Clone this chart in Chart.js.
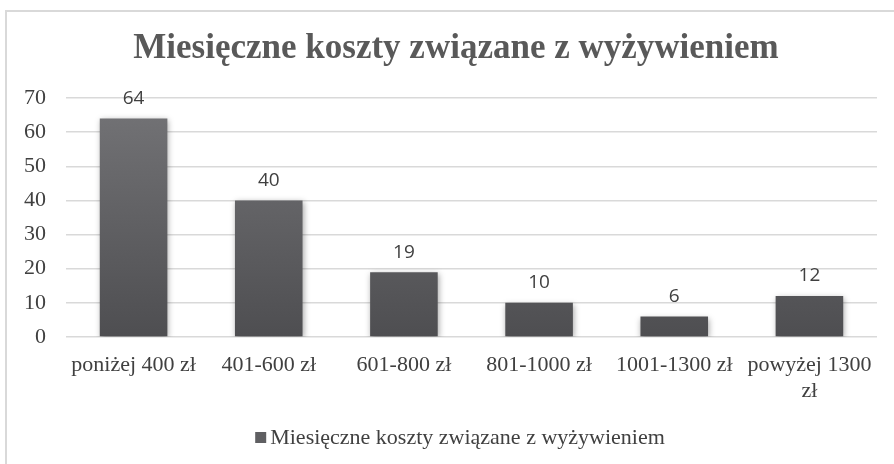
<!DOCTYPE html>
<html>
<head>
<meta charset="utf-8">
<script src="https://cdn.jsdelivr.net/npm/chart.js@4"></script>
<style>
  html, body { margin: 0; padding: 0; background: #fff; }
  #wrap { position: relative; width: 894px; height: 464px; overflow: hidden; }
  #frame {
    position: absolute; left: 5px; top: 10px; right: -10px; bottom: -10px;
    border-left: 2px solid #d9d9d9; border-top: 2px solid #d9d9d9;
  }
  canvas { position: absolute; left: 0; top: 0; }
</style>
</head>
<body>
<div id="wrap">
  <div id="frame"></div>
  <canvas id="costChart" width="894" height="464"></canvas>
</div>
<script>
  const title = "Miesięczne koszty związane z wyżywieniem";
  const categories = ["poniżej 400 zł", "401-600 zł", "601-800 zł", "801-1000 zł", "1001-1300 zł", ["powyżej 1300", "zł"]];
  const counts = [64, 40, 19, 10, 6, 12];
  const yTicks = [0, 10, 20, 30, 40, 50, 60, 70];

  const serif = "'Liberation Serif', 'DejaVu Serif', serif";
  const sans = "'Open Sans', 'Liberation Sans', sans-serif";
  const frameCenter = 458;

  // heading and legend, both centred on the outer frame rather than the plot
  const frameText = {
    id: "frameText",
    afterDraw(chart) {
      const ctx = chart.ctx;
      ctx.save();
      ctx.font = "bold 35px " + serif;
      ctx.fillStyle = "#595959";
      ctx.textAlign = "center";
      ctx.textBaseline = "alphabetic";
      ctx.fillText(title, frameCenter - 2, 58);

      const ds = chart.data.datasets[0];
      ctx.font = "22px " + serif;
      const box = 11, gap = 4;
      const w = box + gap + ctx.measureText(ds.label).width;
      const x0 = frameCenter + 2 - w / 2;
      ctx.fillStyle = "#5f5f62";
      ctx.fillRect(x0, 432, box, box);
      ctx.fillStyle = "#404040";
      ctx.textAlign = "left";
      ctx.fillText(ds.label, x0 + box + gap, 444);
      ctx.restore();
    }
  };

  // soft shadow under the bars
  const barShadow = {
    id: "barShadow",
    beforeDatasetsDraw(chart) {
      const ctx = chart.ctx;
      ctx.save();
      ctx.shadowColor = "rgba(0,0,0,0.35)";
      ctx.shadowBlur = 6;
      ctx.shadowOffsetX = 1;
      ctx.shadowOffsetY = 2;
    },
    afterDatasetsDraw(chart) {
      chart.ctx.restore();
    }
  };

  // value labels above each bar
  const valueLabels = {
    id: "valueLabels",
    afterDatasetsDraw(chart) {
      const ctx = chart.ctx;
      const meta = chart.getDatasetMeta(0);
      ctx.save();
      ctx.font = "19px " + sans;
      ctx.fillStyle = "#404040";
      ctx.textAlign = "center";
      ctx.textBaseline = "middle";
      meta.data.forEach((bar, i) => {
        ctx.fillText(String(counts[i]), bar.x, bar.y - 20);
      });
      ctx.restore();
    }
  };

  function barGradient(context) {
    const area = context.chart.chartArea;
    if (!area) return "#5f5f62";
    const g = context.chart.ctx.createLinearGradient(0, area.top, 0, area.bottom);
    g.addColorStop(0, "#747477");
    g.addColorStop(1, "#4e4e51");
    return g;
  }

  new Chart(document.getElementById("costChart"), {
    type: "bar",
    data: {
      labels: categories,
      datasets: [{
        label: title,
        data: counts,
        backgroundColor: barGradient,
        borderWidth: 0,
        barPercentage: 0.5,
        categoryPercentage: 1.0
      }]
    },
    plugins: [barShadow, valueLabels, frameText],
    options: {
      responsive: false,
      animation: false,
      layout: { padding: { left: 0, right: 17, top: 98, bottom: 47 } },
      plugins: {
        legend: { display: false },
        tooltip: { enabled: false }
      },
      scales: {
        x: {
          grid: { display: false, drawTicks: false },
          border: { display: false },
          ticks: {
            color: "#404040",
            font: { family: serif, size: 22, lineHeight: 1.15 },
            padding: 16,
            maxRotation: 0,
            autoSkip: false
          },
          afterFit: (s) => { s.height = 80; }
        },
        y: {
          min: 0,
          max: 70,
          afterBuildTicks: (s) => { s.ticks = yTicks.map(v => ({ value: v })); },
          grid: { color: "#d9d9d9", lineWidth: 1.5, drawTicks: false },
          border: { display: false },
          ticks: {
            color: "#404040",
            font: { family: serif, size: 22 },
            padding: 20
          },
          afterFit: (s) => { s.width = 66; }
        }
      }
    }
  });
</script>
</body>
</html>
